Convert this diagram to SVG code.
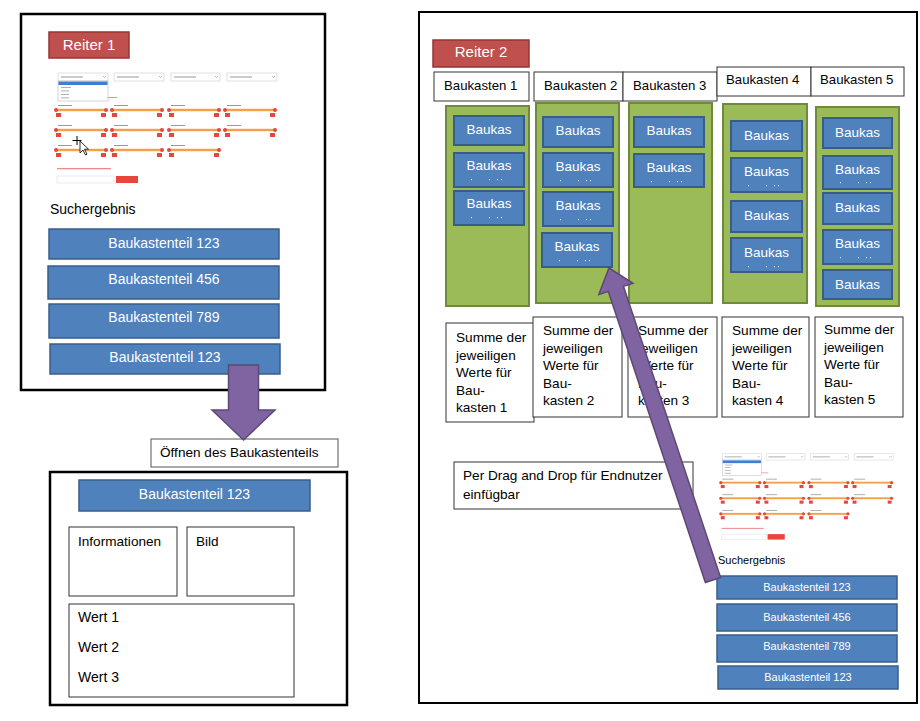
<svg xmlns="http://www.w3.org/2000/svg" xmlns:xlink="http://www.w3.org/1999/xlink" width="920" height="721" viewBox="0 0 920 721">
<style>
text{font-family:"Liberation Sans",Arial,sans-serif}
.frame{fill:#fff;stroke:#000;stroke-width:2.5}
.tab{fill:#c0504d;stroke:#943634;stroke-width:1.5}
.tabt{fill:#fff;font-size:15px;text-anchor:middle}
.bar{fill:#4f81bd;stroke:#385d8a;stroke-width:1.5}
.bart{fill:#fff;font-size:14px;text-anchor:middle}
.bars{fill:#fff;font-size:11px;text-anchor:middle}
.box{fill:#fff;stroke:#333;stroke-width:1}
.t{fill:#000;font-size:14px}
.th{fill:#000;font-size:13.2px}
.tm{fill:#000;font-size:13.6px}
.ts{fill:#000;font-size:11px}
.col{fill:#9bbb59;stroke:#71893f;stroke-width:2}
.bk{fill:#4f81bd;stroke:#385d8a;stroke-width:2}
.bkt{fill:#fff;font-size:13.5px;text-anchor:middle}
.dot{fill:#dfe8f5}
.arrow{fill:#8064a2;stroke:#5c4776;stroke-width:1.5}
.dd{fill:#fff;stroke:#ccc;stroke-width:.6}
.gl{fill:#999}
.sl{fill:#f4a04a}
.rd{fill:#e8453c}
.chev{fill:none;stroke:#888;stroke-width:.6}
</style>
<defs>
<g id="slider">
<rect class="gl" x="2" y="-5" width="14" height="1"/>
<rect class="sl" x="0" y="-1.2" width="50" height="2.4"/>
<circle class="rd" cx="0" cy="0" r="2"/>
<circle class="rd" cx="50" cy="0" r="2"/>
<rect class="rd" x="0" y="3" width="5" height="4"/>
<rect class="rd" x="45" y="3" width="5" height="4"/>
</g>
<g id="mock">
<rect class="dd" x="3" y="1" width="50" height="8"/>
<rect class="gl" x="6" y="4.5" width="22" height="1"/>
<rect class="dd" x="59" y="1" width="50" height="8"/>
<rect class="gl" x="62" y="4.5" width="22" height="1"/>
<rect class="dd" x="116" y="1" width="49" height="8"/>
<rect class="gl" x="119" y="4.5" width="22" height="1"/>
<rect class="dd" x="172" y="1" width="50" height="8"/>
<rect class="gl" x="175" y="4.5" width="22" height="1"/>
<path class="chev" d="M48,4 l1.5,1.5 l1.5,-1.5 M104,4 l1.5,1.5 l1.5,-1.5 M160,4 l1.5,1.5 l1.5,-1.5 M217,4 l1.5,1.5 l1.5,-1.5"/>
<rect x="3" y="9" width="50" height="20" fill="#fff" stroke="#aaa" stroke-width=".5"/>
<rect x="3.5" y="9.5" width="49" height="3.5" fill="#3d7fd6"/>
<rect class="gl" x="6" y="15" width="10" height=".8"/>
<rect class="gl" x="6" y="18.5" width="8" height=".8"/>
<rect class="gl" x="6" y="22" width="8" height=".8"/>
<rect class="gl" x="6" y="25.5" width="8" height=".8"/>
<rect x="53" y="25" width="9" height="1" fill="#f08a8a"/>
<use xlink:href="#slider" x="1" y="38"/>
<use xlink:href="#slider" x="57" y="38"/>
<use xlink:href="#slider" x="114" y="38"/>
<use xlink:href="#slider" x="170" y="38"/>
<use xlink:href="#slider" x="1" y="58"/>
<use xlink:href="#slider" x="57" y="58"/>
<use xlink:href="#slider" x="114" y="58"/>
<use xlink:href="#slider" x="170" y="58"/>
<use xlink:href="#slider" x="1" y="78"/>
<use xlink:href="#slider" x="57" y="78"/>
<use xlink:href="#slider" x="114" y="78"/>
<rect x="2" y="96" width="54" height="1.3" fill="#f08a8a"/>
<rect x="2" y="104" width="57" height="7" fill="#fff" stroke="#ddd" stroke-width=".6"/>
<rect class="rd" x="61" y="104" width="22" height="7"/>
</g>
</defs>
<rect width="920" height="721" fill="#fff"/>

<g id="reiter1-frame">
<rect class="frame" x="21" y="14" width="304" height="376"/>
</g>
<g id="reiter1">
<rect class="tab" x="49" y="32" width="80" height="26"/>
<text class="tabt" x="89" y="50">Reiter 1</text>
</g>
<g id="filter-left">
<use xlink:href="#mock" transform="translate(55,72)"/>
<path d="M77,136 v9 M72.5,140.5 h9" stroke="#000" stroke-width="1"/>
<path d="M80,141 l0,12 l3,-3 l2.5,5 l1.5,-.8 l-2.5,-5 l4,0 z" fill="#fff" stroke="#000" stroke-width=".8"/>
</g>
<g id="suchergebnis-left">
<text class="t" x="50" y="214">Suchergebnis</text>
</g>
<g id="teil-123-a">
<rect class="bar" x="49" y="229" width="230" height="30"/>
<text class="bart" x="164" y="248">Baukastenteil 123</text>
</g>
<g id="teil-456">
<rect class="bar" x="48" y="266" width="231" height="33"/>
<text class="bart" x="164" y="284">Baukastenteil 456</text>
</g>
<g id="teil-789">
<rect class="bar" x="49" y="304" width="230" height="34"/>
<text class="bart" x="164" y="322">Baukastenteil 789</text>
</g>
<g id="teil-123-b">
<rect class="bar" x="50" y="344" width="230" height="30"/>
<text class="bart" x="165" y="362">Baukastenteil 123</text>
</g>

<g id="oeffnen">
<rect x="151" y="439" width="187" height="28" fill="#fff" stroke="#555" stroke-width="1"/>
<text class="tm" x="160" y="457">Öffnen des Baukastenteils</text>
</g>
<g id="detail-frame">
<rect class="frame" x="50" y="472" width="297" height="233"/>
</g>
<g id="detail-teil">
<rect class="bar" x="79" y="480" width="231" height="31"/>
<text class="bart" x="194.5" y="499">Baukastenteil 123</text>
</g>
<g id="informationen">
<rect class="box" x="69" y="527" width="108" height="69"/>
<text class="tm" x="78" y="546">Informationen</text>
</g>
<g id="bild">
<rect class="box" x="187" y="527" width="107" height="69"/>
<text class="tm" x="196" y="546">Bild</text>
</g>
<g id="werte">
<rect class="box" x="69" y="604" width="225" height="93"/>
<text class="t" x="78" y="622">Wert 1</text>
<text class="t" x="78" y="652">Wert 2</text>
<text class="t" x="78" y="682">Wert 3</text>
</g>

<g id="reiter2-frame">
<rect x="419" y="12" width="498" height="691" fill="#fff" stroke="#000" stroke-width="2"/>
</g>
<g id="reiter2">
<rect class="tab" x="433" y="40" width="96" height="27"/>
<text class="tabt" x="481" y="57">Reiter 2</text>
</g>

<g id="header-1"><rect class="box" x="434" y="72" width="95" height="29"/><text class="th" x="444" y="90">Baukasten 1</text></g>
<g id="header-2"><rect class="box" x="534" y="72" width="89" height="29"/><text class="th" x="544" y="90">Baukasten 2</text></g>
<g id="header-3"><rect class="box" x="623" y="72" width="94" height="29"/><text class="th" x="633" y="90">Baukasten 3</text></g>
<g id="header-4"><rect class="box" x="717" y="67" width="94" height="29"/><text class="th" x="726" y="84">Baukasten 4</text></g>
<g id="header-5"><rect class="box" x="811" y="67" width="93" height="29"/><text class="th" x="820" y="84">Baukasten 5</text></g>

<g id="column-1">
<rect class="col" x="446" y="106" width="83" height="200"/>
<rect class="bk" x="454" y="116" width="70" height="29"/><text class="bkt" x="489" y="134">Baukas</text>
<rect class="bk" x="454" y="153" width="70" height="34"/><text class="bkt" x="489" y="170">Baukas</text>
<g class="dot"><rect x="471" y="179" width="1" height="1.2"/><rect x="489" y="179" width="1" height="1.2"/><rect x="497" y="179" width="1" height="1.2"/><rect x="501" y="179" width="1" height="1.2"/></g>
<rect class="bk" x="454" y="191" width="70" height="34"/><text class="bkt" x="489" y="208">Baukas</text>
<g class="dot"><rect x="471" y="217" width="1" height="1.2"/><rect x="489" y="217" width="1" height="1.2"/><rect x="497" y="217" width="1" height="1.2"/><rect x="501" y="217" width="1" height="1.2"/></g>
</g>
<g id="column-2">
<rect class="col" x="536" y="103" width="83" height="200"/>
<rect class="bk" x="543" y="117" width="70" height="30"/><text class="bkt" x="578" y="135">Baukas</text>
<rect class="bk" x="543" y="153" width="70" height="34"/><text class="bkt" x="578" y="171">Baukas</text>
<g class="dot"><rect x="560" y="180" width="1" height="1.2"/><rect x="578" y="180" width="1" height="1.2"/><rect x="586" y="180" width="1" height="1.2"/><rect x="590" y="180" width="1" height="1.2"/></g>
<rect class="bk" x="543" y="192" width="70" height="34"/><text class="bkt" x="578" y="210">Baukas</text>
<g class="dot"><rect x="560" y="219" width="1" height="1.2"/><rect x="578" y="219" width="1" height="1.2"/><rect x="586" y="219" width="1" height="1.2"/><rect x="590" y="219" width="1" height="1.2"/></g>
<rect class="bk" x="542" y="233" width="70" height="34"/><text class="bkt" x="577" y="251">Baukas</text>
<g class="dot"><rect x="559" y="260" width="1" height="1.2"/><rect x="577" y="260" width="1" height="1.2"/><rect x="585" y="260" width="1" height="1.2"/><rect x="589" y="260" width="1" height="1.2"/></g>
</g>
<g id="column-3">
<rect class="col" x="629" y="103" width="83" height="200"/>
<rect class="bk" x="634" y="117" width="70" height="30"/><text class="bkt" x="669" y="135">Baukas</text>
<rect class="bk" x="634" y="154" width="70" height="33"/><text class="bkt" x="669" y="172">Baukas</text>
<g class="dot"><rect x="651" y="181" width="1" height="1.2"/><rect x="669" y="181" width="1" height="1.2"/><rect x="677" y="181" width="1" height="1.2"/><rect x="681" y="181" width="1" height="1.2"/></g>
</g>
<g id="column-4">
<rect class="col" x="723" y="104" width="84" height="199"/>
<rect class="bk" x="731" y="121" width="71" height="30"/><text class="bkt" x="766.5" y="140">Baukas</text>
<rect class="bk" x="731" y="158" width="71" height="34"/><text class="bkt" x="766.5" y="176">Baukas</text>
<g class="dot"><rect x="748" y="185" width="1" height="1.2"/><rect x="766" y="185" width="1" height="1.2"/><rect x="774" y="185" width="1" height="1.2"/><rect x="778" y="185" width="1" height="1.2"/></g>
<rect class="bk" x="731" y="201" width="71" height="31"/><text class="bkt" x="766.5" y="220">Baukas</text>
<rect class="bk" x="731" y="238" width="71" height="34"/><text class="bkt" x="766.5" y="257">Baukas</text>
<g class="dot"><rect x="748" y="266" width="1" height="1.2"/><rect x="766" y="266" width="1" height="1.2"/><rect x="774" y="266" width="1" height="1.2"/><rect x="778" y="266" width="1" height="1.2"/></g>
</g>
<g id="column-5">
<rect class="col" x="816" y="107" width="83" height="199"/>
<rect class="bk" x="823" y="118" width="69" height="30"/><text class="bkt" x="857.5" y="137">Baukas</text>
<rect class="bk" x="823" y="156" width="69" height="33"/><text class="bkt" x="857.5" y="174">Baukas</text>
<g class="dot"><rect x="840" y="182" width="1" height="1.2"/><rect x="858" y="182" width="1" height="1.2"/><rect x="866" y="182" width="1" height="1.2"/><rect x="870" y="182" width="1" height="1.2"/></g>
<rect class="bk" x="823" y="193" width="69" height="31"/><text class="bkt" x="857.5" y="212">Baukas</text>
<rect class="bk" x="823" y="230" width="69" height="34"/><text class="bkt" x="857.5" y="248">Baukas</text>
<g class="dot"><rect x="840" y="257" width="1" height="1.2"/><rect x="858" y="257" width="1" height="1.2"/><rect x="866" y="257" width="1" height="1.2"/><rect x="870" y="257" width="1" height="1.2"/></g>
<rect class="bk" x="823" y="270" width="69" height="29"/><text class="bkt" x="857.5" y="289">Baukas</text>
</g>

<g id="summe-1">
<rect class="box" x="446" y="323" width="88" height="99"/>
<text class="tm"><tspan x="456" y="342">Summe der</tspan><tspan x="456" y="359.5">jeweiligen</tspan><tspan x="456" y="377">Werte für</tspan><tspan x="456" y="394.5">Bau-</tspan><tspan x="456" y="412">kasten 1</tspan></text>
</g>
<g id="summe-2">
<rect class="box" x="533" y="317" width="89" height="100"/>
<text class="tm"><tspan x="543" y="335">Summe der</tspan><tspan x="543" y="352.5">jeweiligen</tspan><tspan x="543" y="370">Werte für</tspan><tspan x="543" y="387.5">Bau-</tspan><tspan x="543" y="405">kasten 2</tspan></text>
</g>
<g id="summe-3">
<rect class="box" x="628" y="317" width="89" height="100"/>
<text class="tm"><tspan x="638" y="335">Summe der</tspan><tspan x="638" y="352.5">jeweiligen</tspan><tspan x="638" y="370">Werte für</tspan><tspan x="638" y="387.5">Bau-</tspan><tspan x="638" y="405">kasten 3</tspan></text>
</g>
<g id="summe-4">
<rect class="box" x="722" y="317" width="87" height="100"/>
<text class="tm"><tspan x="732" y="335">Summe der</tspan><tspan x="732" y="352.5">jeweiligen</tspan><tspan x="732" y="370">Werte für</tspan><tspan x="732" y="387.5">Bau-</tspan><tspan x="732" y="405">kasten 4</tspan></text>
</g>
<g id="summe-5">
<rect class="box" x="815" y="317" width="88" height="100"/>
<text class="tm"><tspan x="824" y="334">Summe der</tspan><tspan x="824" y="351.5">jeweiligen</tspan><tspan x="824" y="369">Werte für</tspan><tspan x="824" y="386.5">Bau-</tspan><tspan x="824" y="404">kasten 5</tspan></text>
</g>

<g id="drag-note">
<rect class="box" x="454" y="462" width="239" height="47"/>
<text class="tm" x="463" y="480">Per Drag and Drop für Endnutzer</text>
<text class="tm" x="463" y="499">einfügbar</text>
</g>

<g id="filter-right">
<use xlink:href="#mock" transform="translate(720,453) scale(0.78)"/>
</g>
<g id="suchergebnis-right">
<text class="ts" x="718" y="564">Suchergebnis</text>
</g>
<g id="r-teil-123-a"><rect class="bar" x="717" y="576" width="180" height="23"/><text class="bars" x="807" y="591">Baukastenteil 123</text></g>
<g id="r-teil-456"><rect class="bar" x="717" y="604" width="180" height="27"/><text class="bars" x="807" y="621">Baukastenteil 456</text></g>
<g id="r-teil-789"><rect class="bar" x="717" y="635" width="180" height="27"/><text class="bars" x="807" y="650">Baukastenteil 789</text></g>
<g id="r-teil-123-b"><rect class="bar" x="718" y="666" width="180" height="23"/><text class="bars" x="808" y="681">Baukastenteil 123</text></g>

<g id="connectors">
<polygon class="arrow" points="228.5,365 258.5,365 258.5,410 275,410 243.5,440 212,410 228.5,410"/>
<polygon class="arrow" points="609,268 633,283.3 623.5,286.4 720.6,577.5 705.4,582.5 608.3,291.4 598.8,294.5"/>
</g>
</svg>
